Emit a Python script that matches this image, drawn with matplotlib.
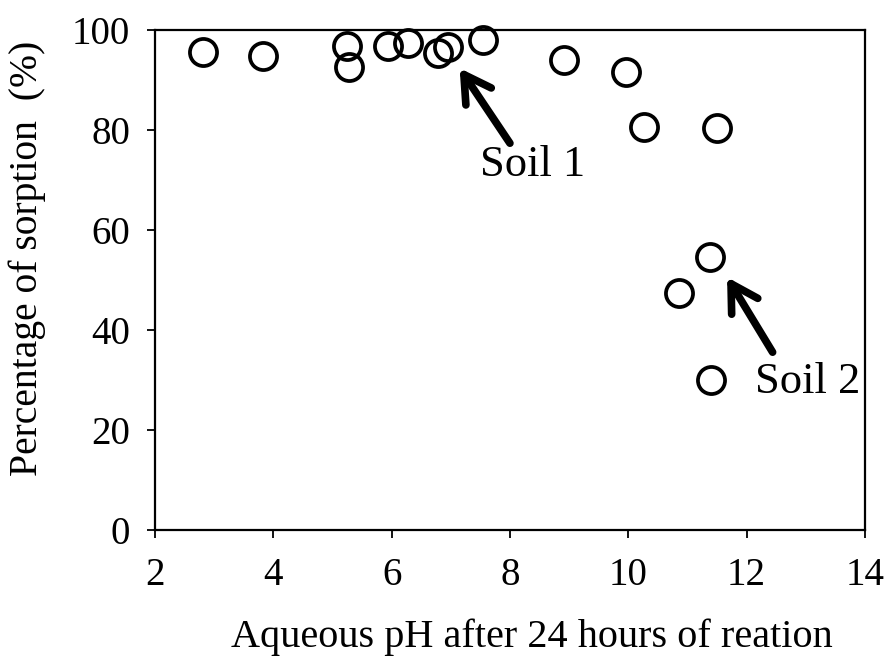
import matplotlib
matplotlib.use('Agg')
import matplotlib.pyplot as plt

# pH after 24 h and percentage sorbed
ph = [2.81, 3.83, 5.25, 5.28, 5.94, 6.28, 6.79, 6.96, 7.54,
      8.91, 9.96, 10.27, 11.50, 11.38, 10.86, 11.40]
sorption = [95.6, 94.8, 96.8, 92.6, 96.8, 97.4, 95.4, 96.6, 98.0,
            94.0, 91.6, 80.6, 80.4, 54.6, 47.4, 30.0]

plt.rcParams['font.family'] = ['Liberation Serif', 'DejaVu Serif']

fig = plt.figure(figsize=(8.88, 6.57), dpi=100)
ax = fig.add_axes([0.1745, 0.193, 0.7995, 0.761])

ax.plot(ph, sorption, 'o', ms=19.5, mfc='none', mec='black', mew=2.7, clip_on=False)

ax.set_xlim(2, 14)
ax.set_ylim(0, 100)
ax.set_xticks(range(2, 15, 2))
ax.set_yticks(range(0, 101, 20))
ax.tick_params(direction='out', length=6, width=1.3, labelsize=28)
ax.tick_params(axis='x', pad=13)
ax.tick_params(axis='y', pad=12)
ax.tick_params(top=False, right=False)
for sp in ax.spines.values():
    sp.set_linewidth(1.6)

fig.text(532 / 888, 1 - 637 / 657, 'Aqueous pH after 24 hours of reation',
         fontsize=29, ha='center', va='center')
fig.text(27 / 888, 1 - 258 / 657, 'Percentage of sorption  (%)',
         fontsize=28.5, ha='center', va='center', rotation=90)

arrow = dict(arrowstyle='->,head_length=1.9,head_width=1.1', lw=5.5, color='black',
             shrinkA=0, shrinkB=0)
ax.annotate('', xy=(7.15, 92.4), xytext=(8.0, 77.4), arrowprops=arrow)
ax.text(7.49, 73.0, 'Soil 1', fontsize=32, va='center', ha='left')
ax.annotate('', xy=(11.67, 50.6), xytext=(12.44, 35.6), arrowprops=arrow)
ax.text(12.14, 29.6, 'Soil 2', fontsize=32, va='center', ha='left')

fig.savefig('out.png', dpi=100)
